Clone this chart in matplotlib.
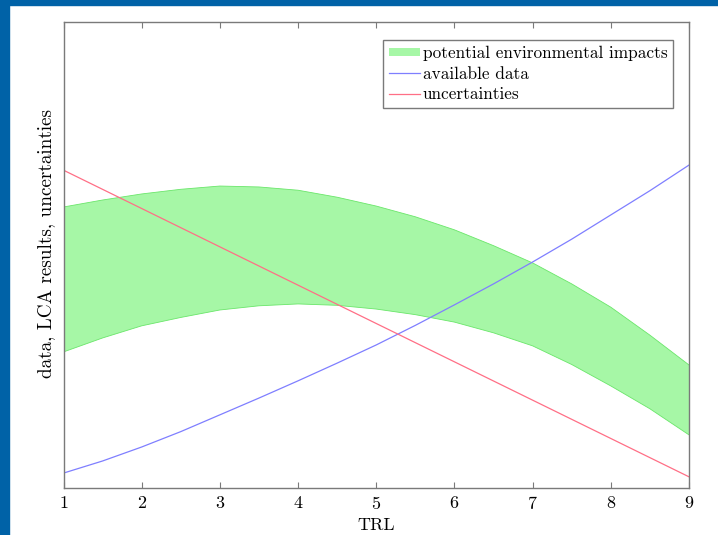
import matplotlib
matplotlib.use("Agg")
import matplotlib.pyplot as plt
from matplotlib.patches import Rectangle, Patch
from matplotlib.lines import Line2D

plt.rcParams['font.family'] = ['cmr10', 'DejaVu Serif']
plt.rcParams['mathtext.fontset'] = 'cm'
plt.rcParams['axes.formatter.use_mathtext'] = True

# TRL steps
trl = [1, 1.5, 2, 2.5, 3, 3.5, 4, 4.5, 5, 5.5, 6, 6.5, 7, 7.5, 8, 8.5, 9]
available_data = [0.32, 0.58, 0.88, 1.21, 1.57, 1.93, 2.30, 2.68, 3.07,
                  3.49, 3.93, 4.38, 4.85, 5.34, 5.86, 6.38, 6.93]
impact_upper = [6.03, 6.18, 6.31, 6.41, 6.48, 6.46, 6.39, 6.24, 6.05,
                5.82, 5.54, 5.20, 4.83, 4.38, 3.88, 3.28, 2.64]
impact_lower = [2.92, 3.22, 3.48, 3.66, 3.82, 3.91, 3.95, 3.92, 3.84,
                3.72, 3.56, 3.33, 3.05, 2.65, 2.19, 1.70, 1.14]
unc_trl = [1, 9]
uncertainties = [6.82, 0.24]
xticks = [1, 2, 3, 4, 5, 6, 7, 8, 9]

fill_c = '#a6f7a6'
edge_c = '#6ae66a'
blue_c = '#7f7fff'
red_c = '#ff6f86'
gray = '#7a7a7a'
fs = 13

fig = plt.figure(figsize=(7.18, 5.35), dpi=100)
# blue slide frame
fig.patches.append(Rectangle((0, 0), 9 / 718, 1, transform=fig.transFigure,
                             color='#0062a7', zorder=0))
fig.patches.append(Rectangle((0, 1 - 5 / 535), 1, 5 / 535, transform=fig.transFigure,
                             color='#0062a7', zorder=0))

ax = fig.add_axes([63.5 / 718, 47 / 535, 625.5 / 718, 466 / 535])
ax.fill_between(trl, impact_lower, impact_upper, facecolor=fill_c,
                edgecolor='none', zorder=1)
ax.plot(trl, impact_upper, color=edge_c, lw=0.6, zorder=1.5)
ax.plot(trl, impact_lower, color=edge_c, lw=0.6, zorder=1.5)
ax.plot(trl, available_data, color=blue_c, lw=0.9, zorder=2)
ax.plot(unc_trl, uncertainties, color=red_c, lw=0.9, zorder=2)

ax.set_xlim(1, 9)
ax.set_ylim(0, 10)
ax.set_xticks(xticks)
ax.set_yticks([])
ax.tick_params(axis='x', direction='in', top=True, length=4, color=gray,
               labelsize=fs, pad=5)
for s in ax.spines.values():
    s.set_color(gray)
    s.set_linewidth(1.0)

ax.set_xlabel('TRL', fontsize=fs, labelpad=4)
ax.set_ylabel('data, LCA results, uncertainties', fontsize=13.8)
ax.yaxis.set_label_coords(-0.013, 0.525)

handles = [Patch(facecolor=fill_c, edgecolor='none'),
           Line2D([], [], color=blue_c, lw=0.9),
           Line2D([], [], color=red_c, lw=0.9)]
labels = ['potential environmental impacts', 'available data', 'uncertainties']
leg = ax.legend(handles, labels, loc='upper right', bbox_to_anchor=(0.975, 0.962),
                borderaxespad=0, fontsize=12.4, handlelength=1.8, handleheight=0.4,
                handletextpad=0.15, labelspacing=0.3, borderpad=0.35,
                fancybox=False, framealpha=1, edgecolor=gray)
leg.get_frame().set_linewidth(1.0)

fig.savefig('out.png', dpi=100)
